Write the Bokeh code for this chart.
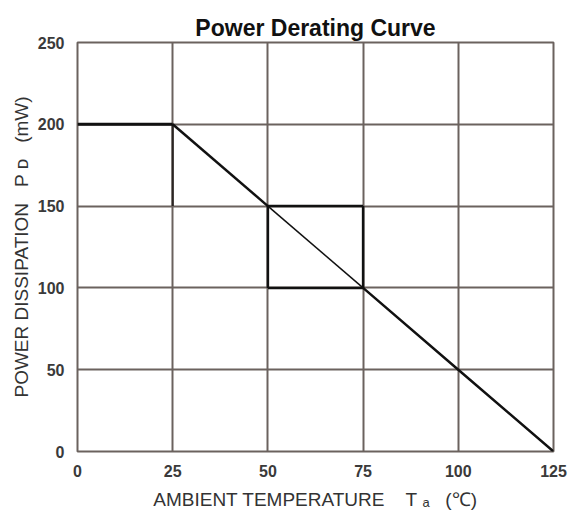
from bokeh.plotting import figure
from bokeh.models import FixedTicker, Range1d
from bokeh.embed import file_html
from bokeh.resources import INLINE

# ---- data ----
temps = [0, 25, 50, 75, 100, 125]          # ambient temperature (°C)
power = [200, 200, 150, 100, 50, 0]        # power dissipation (mW)
x_ticks = [0, 25, 50, 75, 100, 125]
y_ticks = [0, 50, 100, 150, 200, 250]

GRID = "#6b625e"
TXT = "#333333"
NB = "\u00a0"

p = figure(width=577, height=512, output_backend="svg", toolbar_location=None,
           x_range=Range1d(0, 125), y_range=Range1d(0, 250),
           min_border_left=77, min_border_right=24, min_border_top=42, min_border_bottom=60,
           title="Power Derating Curve")
p.background_fill_color = "white"
p.border_fill_color = "white"
p.outline_line_color = GRID
p.outline_line_width = 2

p.title.align = "center"
p.title.text_font = "Liberation Sans"
p.title.text_font_size = "23px"
p.title.text_font_style = "bold"
p.title.text_color = "#111111"
p.title.standoff = 4

for ax, ticks in ((p.xaxis[0], x_ticks), (p.yaxis[0], y_ticks)):
    ax.ticker = FixedTicker(ticks=ticks)
    ax.axis_line_color = None
    ax.major_tick_line_color = None
    ax.minor_tick_line_color = None
    ax.major_label_text_font = "Liberation Sans"
    ax.major_label_text_font_size = "16px"
    ax.major_label_text_font_style = "bold"
    ax.major_label_text_color = "#3a3a3a"
    ax.axis_label_text_font = "Liberation Sans"
    ax.axis_label_text_font_size = "19px"
    ax.axis_label_text_font_style = "normal"
    ax.axis_label_text_color = TXT

p.xaxis[0].major_label_standoff = 7
p.yaxis[0].major_label_standoff = 7
p.xaxis[0].axis_label = "AMBIENT TEMPERATURE" + NB * 4 + "T" + NB + "ₐ" + NB * 3 + "(℃)"
p.yaxis[0].axis_label = "POWER DISSIPATION" + NB * 3 + "P" + NB + "ᴅ" + NB * 3 + "(mW)"
p.xaxis[0].axis_label_standoff = 9
p.yaxis[0].axis_label_standoff = 3

p.xgrid.ticker = FixedTicker(ticks=x_ticks)
p.ygrid.ticker = FixedTicker(ticks=y_ticks)
for g in (p.xgrid[0], p.ygrid[0]):
    g.grid_line_color = GRID
    g.grid_line_width = 2
    g.grid_line_alpha = 1.0

# guide lines drawn from the curve's points
# vertical at 25 from P(25) down to P(50)
p.segment(x0=[temps[1]], y0=[power[1]], x1=[temps[1]], y1=[power[2]],
          line_color="#2a2522", line_width=2.2)
# box between (50,150) and (75,100)
bx0, bx1 = temps[2], temps[3]
by0, by1 = power[3], power[2]
p.segment(x0=[bx0, bx0, bx0, bx1], y0=[by1, by0, by0, by0],
          x1=[bx1, bx1, bx0, bx1], y1=[by1, by0, by1, by1],
          line_color="#111111", line_width=2.5)

# derating curve
p.line(temps[0:2], power[0:2], line_color="#111111", line_width=3)
p.line(temps[1:3], power[1:3], line_color="#111111", line_width=2.5)
p.line(temps[2:4], power[2:4], line_color="#111111", line_width=1.5)
p.line(temps[3:6], power[3:6], line_color="#111111", line_width=2.5)

open("out.html", "w").write(file_html(p, INLINE))
